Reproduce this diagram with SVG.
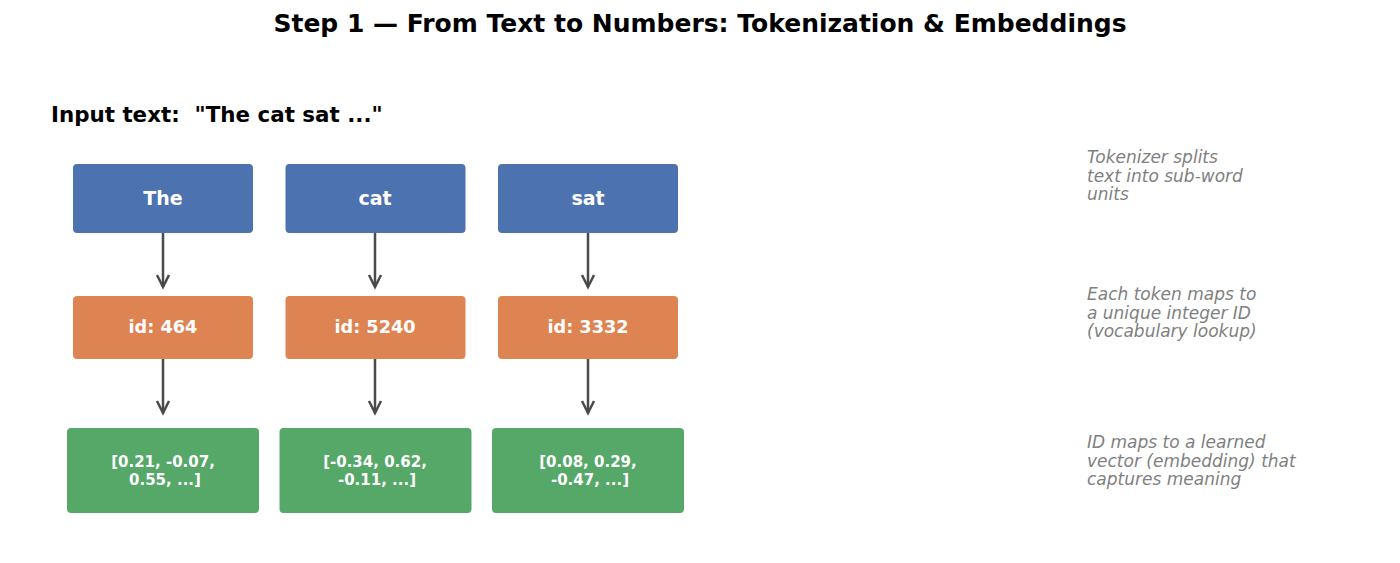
<svg xmlns="http://www.w3.org/2000/svg" width="1400" height="563" viewBox="0 0 1400 563">
<defs>
<style>
text{font-family:"DejaVu Sans","Noto Sans",sans-serif}
.title{font-size:25px;font-weight:bold;fill:#000;text-anchor:middle}
.input{font-size:21.4px;font-weight:bold;fill:#000}
.tok rect{fill:#4C72B0;stroke:#4C72B0}
.id rect{fill:#DD8452;stroke:#DD8452}
.emb rect{fill:#55A868;stroke:#55A868}
.tok text{font-size:19px;font-weight:bold;fill:#fff;text-anchor:middle}
.id text{font-size:17.7px;font-weight:bold;fill:#fff;text-anchor:middle}
.emb text{font-size:15px;font-weight:bold;fill:#fff;text-anchor:middle}
.note{font-size:17px;font-style:italic;fill:#808080}
.conn line,.conn polyline{stroke:#4a4a4a;stroke-width:2.5;fill:none}
</style>
</defs>
<rect width="1400" height="563" fill="#fff"/>
<text class="title" x="700" y="32">Step 1 — From Text to Numbers: Tokenization &amp; Embeddings</text>
<text class="input" x="51" y="122" xml:space="preserve">Input text:  "The cat sat ..."</text>

<g class="conn" id="connectors">
<line x1="163" y1="233" x2="163" y2="287"/><polyline points="157,275 163,287 169,275"/>
<line x1="375" y1="233" x2="375" y2="287"/><polyline points="369,275 375,287 381,275"/>
<line x1="588" y1="233" x2="588" y2="287"/><polyline points="582,275 588,287 594,275"/>
<line x1="163" y1="359" x2="163" y2="413"/><polyline points="157,401 163,413 169,401"/>
<line x1="375" y1="359" x2="375" y2="413"/><polyline points="369,401 375,413 381,401"/>
<line x1="588" y1="359" x2="588" y2="413"/><polyline points="582,401 588,413 594,401"/>
</g>

<g id="tok-the" class="tok"><rect x="73.5" y="164.5" width="179" height="68" rx="3"/><text x="163" y="205">The</text></g>
<g id="tok-cat" class="tok"><rect x="286" y="164.5" width="179" height="68" rx="3"/><text x="375" y="205">cat</text></g>
<g id="tok-sat" class="tok"><rect x="498.5" y="164.5" width="179" height="68" rx="3"/><text x="588" y="205">sat</text></g>

<g id="id-464" class="id"><rect x="73.5" y="296.5" width="179" height="62" rx="3"/><text x="163" y="333">id: 464</text></g>
<g id="id-5240" class="id"><rect x="286" y="296.5" width="179" height="62" rx="3"/><text x="375" y="333">id: 5240</text></g>
<g id="id-3332" class="id"><rect x="498.5" y="296.5" width="179" height="62" rx="3"/><text x="588" y="333">id: 3332</text></g>

<g id="emb-the" class="emb"><rect x="67.5" y="428.5" width="191" height="84" rx="3"/><text x="163" y="467">[0.21, -0.07,</text><text x="165" y="485">0.55, ...]</text></g>
<g id="emb-cat" class="emb"><rect x="280" y="428.5" width="191" height="84" rx="3"/><text x="375" y="467">[-0.34, 0.62,</text><text x="377" y="485">-0.11, ...]</text></g>
<g id="emb-sat" class="emb"><rect x="492.5" y="428.5" width="191" height="84" rx="3"/><text x="588" y="467">[0.08, 0.29,</text><text x="590" y="485">-0.47, ...]</text></g>

<g id="note-1" class="note"><text x="1087" y="163">Tokenizer splits</text><text x="1087" y="181.5">text into sub-word</text><text x="1087" y="200">units</text></g>
<g id="note-2" class="note"><text x="1087" y="300">Each token maps to</text><text x="1087" y="318.5">a unique integer ID</text><text x="1087" y="337">(vocabulary lookup)</text></g>
<g id="note-3" class="note"><text x="1087" y="448">ID maps to a learned</text><text x="1087" y="466.5">vector (embedding) that</text><text x="1087" y="485">captures meaning</text></g>
</svg>
